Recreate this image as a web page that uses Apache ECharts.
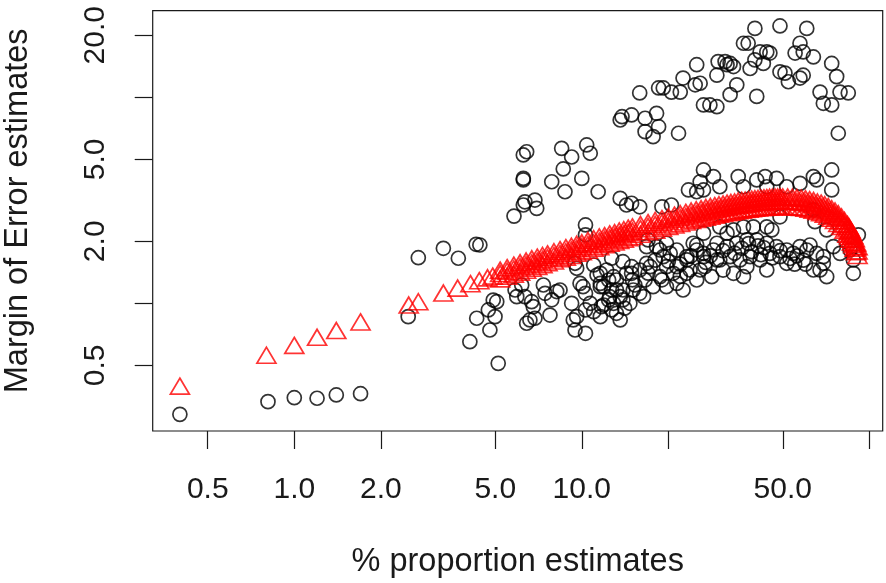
<!DOCTYPE html>
<html>
<head>
<meta charset="utf-8">
<script src="https://cdn.jsdelivr.net/npm/echarts@6/dist/echarts.min.js"></script>
<style>
  html, body { margin: 0; padding: 0; background: #fff; }
  #chart { width: 886px; height: 583px; }
</style>
</head>
<body>
<div id="chart"></div>
<script>
// observed estimates (black circles): % proportion / margin of error
var circP = [
  0.40, 0.81, 1.0, 1.2, 1.4, 1.7,
  2.49, 2.70, 3.30, 3.72, 4.29, 4.31, 4.73, 5.06, 4.99, 4.79, 4.08, 5.12, 4.42, 4.92,
  6.43, 6.26, 6.26, 6.26, 6.34, 6.26, 6.87, 6.97, 5.81, 8.51, 9.22, 8.62, 7.86, 8.74,
  10.4, 10.7, 10.0, 11.4, 13.6, 14.3, 10.3, 10.3, 14.9, 15.9, 19.0, 20.5, 23.5, 25.1,
  25.8, 26.5, 17.0, 16.8,
  5.86, 6.18, 6.34, 7.35, 7.45, 7.86, 8.18, 6.69, 6.60, 6.43, 7.75, 9.22, 9.60, 9.47,
  9.60, 5.94, 6.78, 6.87, 9.86, 10.3, 10.7, 11.6, 11.9, 12.4, 12.7, 13.2, 13.6, 13.9,
  9.34, 10.3, 11.0, 11.7, 14.1, 12.7, 13.9, 9.47, 11.0, 11.3, 12.2, 12.9, 14.3, 14.9,
  15.9, 16.8, 18.7, 19.7, 20.3, 21.4, 23.2, 24.4, 25.1, 26.5, 28.7, 29.5, 19.7, 21.4,
  23.2, 25.8, 28.3, 10.1, 11.6, 12.5, 13.2, 13.9, 15.1, 16.4, 11.9, 14.7, 8.40, 10.3,
  11.6, 12.9, 13.2, 13.6, 11.6, 12.4, 12.7, 14.9, 15.3, 15.9, 16.6, 17.3, 17.7, 18.7,
  19.7, 20.8, 21.4, 22.5, 23.2, 23.8, 25.1, 26.5, 25.1, 19.2, 18.2,
  17.0, 18.0, 20.0, 22.0, 24.0, 15.0, 27.0, 19.0, 22.0,
  13.8, 13.6, 14.9, 15.9, 16.6, 16.6, 17.7, 18.2, 18.5, 21.7, 18.5, 19.2, 20.5, 22.0,
  22.5, 25.1, 24.8, 29.8, 29.5, 26.5, 27.9, 29.5, 40.0, 48.9, 60.6, 36.5, 37.9, 41.7,
  44.0, 45.1, 40.0, 42.8, 31.5, 32.8, 33.7, 32.0, 25.8, 34.6, 32.8, 40.6, 38.5, 48.9,
  50.9, 52.3, 57.4, 58.9, 55.2, 57.4, 58.9, 63.9, 74.0, 77.0, 67.4, 69.2, 74.0, 79.1,
  84.5, 78.0,
  28.7, 26.5, 30.2, 35.0, 36.5, 40.6, 43.4, 44.0, 47.6, 51.6, 57.4, 63.9, 65.6, 74.0,
  74.0, 48.9, 64.7, 71.1, 63.9, 91.6, 85.7, 88.0, 88.0, 75.0,
  30.2, 32.0, 33.7, 36.5, 39.5, 44.0, 45.8, 29.5, 32.0, 34.6, 37.5, 40.6, 44.0, 47.6,
  51.6, 54.4, 57.4, 60.6, 62.2, 65.6, 69.2, 30.2, 32.8, 35.5, 38.5, 41.7, 45.1, 48.9,
  33.7, 37.5, 44.0, 51.6, 63.9, 71.1, 69.2, 79.1, 26.5, 26.8, 67.4, 36.5,
  31.0, 34.0, 36.0, 39.0, 42.0, 43.0, 46.0, 49.0, 53.0, 56.0, 59.0, 38.0, 41.0, 28.0,
  31.0, 55.0, 60.0
];
var circMoE = [
  0.289, 0.333, 0.348, 0.346, 0.359, 0.364,
  0.861, 1.665, 1.849, 1.654, 1.934, 0.846, 0.928, 1.018, 0.861, 0.742, 0.651, 0.511, 1.919, 1.037,
  5.44, 5.25, 4.04, 3.97, 3.11, 3.00, 3.17, 2.89, 2.65, 5.65, 5.13, 4.49, 3.89, 3.48,
  5.87, 5.35, 4.04, 3.48, 3.23, 3.00, 2.40, 2.15, 3.06, 2.94, 2.94, 3.00, 3.55, 3.48,
  3.89, 4.44, 2.03, 1.883,
  1.16, 1.227, 1.077, 1.227, 1.118, 1.04, 1.14, 1.018, 0.83, 0.80, 0.877, 1.0, 0.861, 0.742,
  1.479, 1.077, 0.963, 0.846, 1.25, 1.118, 1.0, 1.398, 1.204, 1.038, 0.928, 1.297, 1.077, 1.16,
  0.83, 0.715, 0.91, 0.963, 0.946, 1.654, 1.592, 1.564, 1.534, 1.372, 1.451, 1.346, 1.398, 1.505,
  1.451, 1.564, 1.814, 1.956, 1.748, 1.814, 1.684, 1.956, 1.814, 1.684, 1.814, 1.623, 1.505, 1.505,
  1.398, 1.451, 1.346, 1.204, 1.204, 1.077, 1.16, 1.038, 1.16, 1.077, 0.981, 1.0, 1.16, 0.928,
  0.861, 1.0, 0.894, 0.83, 1.25, 1.297, 1.16, 1.398, 1.227, 1.118, 1.297, 1.505, 1.204, 1.346,
  1.204, 1.398, 1.25, 1.16, 1.623, 1.451, 1.297, 1.748, 1.919, 1.684, 1.883,
  1.40, 1.62, 1.60, 1.55, 1.70, 1.30, 1.58, 1.30, 1.35,
  8.05, 7.76, 8.21, 10.5, 7.91, 6.81, 6.44, 8.36, 7.20, 6.69, 11.1, 11.1, 10.6, 10.6,
  12.4, 14.4, 11.5, 14.9, 12.8, 9.18, 9.18, 9.00, 21.6, 22.2, 21.6, 18.3, 18.3, 16.6,
  16.6, 16.4, 15.2, 14.6, 14.9, 14.6, 14.1, 14.4, 11.7, 11.5, 10.3, 10.1, 13.8, 13.3,
  13.1, 11.9, 12.4, 12.8, 16.4, 18.3, 16.6, 15.7, 14.6, 12.6, 10.6, 9.35, 9.18, 10.6,
  10.5, 6.69,
  4.12, 3.55, 3.68, 4.12, 3.68, 3.97, 4.12, 3.68, 4.04, 3.68, 3.82, 4.12, 3.97, 4.44,
  3.55, 2.63, 2.49, 2.27, 2.84, 2.15, 1.814, 1.623, 1.398, 1.883,
  2.35, 2.19, 2.27, 2.35, 2.35, 2.35, 2.27, 1.956, 1.883, 1.956, 2.03, 2.03, 1.956, 1.883,
  1.814, 1.748, 1.883, 1.814, 1.919, 1.748, 1.684, 1.623, 1.684, 1.623, 1.684, 1.623, 1.748, 1.684,
  1.398, 1.505, 1.451, 1.564, 1.451, 1.346, 1.564, 1.748, 2.19, 1.505, 1.451, 1.346,
  1.80, 1.75, 1.85, 1.78, 1.72, 1.86, 1.66, 1.80, 1.65, 1.70, 1.62, 1.95, 1.90, 1.70,
  1.45, 1.55, 1.55
];

// red triangles: sparse low proportions
var lowP = [0.4, 0.8, 1.0, 1.2, 1.4, 1.7, 2.5, 2.7, 3.3, 3.7, 4.1, 4.4, 4.7, 4.9];
var lowMoE = [0.383, 0.541, 0.604, 0.661, 0.713, 0.785, 0.948, 0.984, 1.084, 1.146, 1.204, 1.245, 1.285, 1.31];

// red triangles: dense band (upper edge, middle, lower edge)
var bandP = [5.2, 5.5, 5.8, 6.1, 6.4, 6.7, 7.0, 7.3, 7.6, 8.0, 8.4, 8.8, 9.2, 9.6, 10, 10.5, 11, 11.5,
  12, 12.5, 13, 13.5, 14, 14.5, 15, 16, 17, 18, 19, 20, 21, 22, 23, 24, 25, 26, 27, 28, 29, 30,
  31, 32, 33, 34, 35, 36, 37, 38, 39, 40, 41, 42, 43, 44, 45, 46, 47, 48, 49, 50, 52, 54, 56, 58,
  60, 62, 64, 66, 68, 70, 72, 74, 76, 78, 80, 82, 84, 85, 86, 87, 88, 89, 90, 91];
var bandUpper = [1.40, 1.44, 1.48, 1.52, 1.55, 1.59, 1.62, 1.65, 1.68, 1.72, 1.76, 1.80, 1.83, 1.87,
  1.90, 1.95, 1.99, 2.03, 2.06, 2.10, 2.13, 2.17, 2.20, 2.24, 2.27, 2.33, 2.38, 2.44, 2.49, 2.54,
  2.59, 2.63, 2.67, 2.71, 2.75, 2.78, 2.82, 2.85, 2.88, 2.91, 2.93, 2.96, 2.98, 3.00, 3.03, 3.05,
  3.06, 3.08, 3.09, 3.11, 3.12, 3.13, 3.14, 3.15, 3.16, 3.16, 3.17, 3.17, 3.17, 3.17, 3.17, 3.16,
  3.15, 3.13, 3.11, 3.08, 3.05, 3.00, 2.96, 2.91, 2.85, 2.78, 2.71, 2.63, 2.54, 2.44, 2.33, 2.27,
  2.20, 2.13, 2.06, 1.99, 1.90, 1.82];
var bandMid = [1.348, 1.384, 1.419, 1.453, 1.486, 1.518, 1.549, 1.579, 1.609, 1.647, 1.684, 1.720,
  1.754, 1.788, 1.821, 1.861, 1.899, 1.937, 1.973, 2.008, 2.041, 2.074, 2.106, 2.137, 2.167, 2.225,
  2.280, 2.332, 2.381, 2.428, 2.472, 2.514, 2.554, 2.592, 2.628, 2.662, 2.695, 2.725, 2.754, 2.782,
  2.807, 2.831, 2.854, 2.875, 2.895, 2.914, 2.931, 2.946, 2.961, 2.974, 2.985, 2.996, 3.005, 3.013,
  3.020, 3.025, 3.030, 3.033, 3.034, 3.035, 3.033, 3.025, 3.013, 2.996, 2.974, 2.946, 2.914, 2.875,
  2.831, 2.782, 2.725, 2.662, 2.592, 2.514, 2.428, 2.332, 2.225, 2.167, 2.106, 2.041, 1.973, 1.899,
  1.821, 1.737];
var bandLower = [1.27, 1.31, 1.34, 1.37, 1.40, 1.43, 1.46, 1.49, 1.52, 1.55, 1.59, 1.62, 1.65, 1.69,
  1.72, 1.75, 1.79, 1.82, 1.86, 1.89, 1.92, 1.95, 1.98, 2.01, 2.04, 2.09, 2.15, 2.19, 2.24, 2.28,
  2.32, 2.36, 2.40, 2.44, 2.47, 2.50, 2.53, 2.56, 2.59, 2.62, 2.64, 2.66, 2.68, 2.70, 2.72, 2.74,
  2.76, 2.77, 2.78, 2.80, 2.81, 2.82, 2.82, 2.83, 2.84, 2.84, 2.85, 2.85, 2.85, 2.85, 2.85, 2.84,
  2.83, 2.82, 2.80, 2.77, 2.74, 2.70, 2.66, 2.62, 2.56, 2.50, 2.44, 2.36, 2.28, 2.19, 2.09, 2.04,
  1.98, 1.92, 1.86, 1.79, 1.72, 1.65];

var xTicks = [0.5, 1, 2, 5, 10, 20, 50, 100];
var xLabels = [0.5, 1, 2, 5, 10, 50];
var yTicks = [0.5, 1, 2, 5, 10, 20];
var yLabels = [0.5, 2, 5, 20];

var lg = Math.log10;
var circles = circP.map(function (p, i) { return [lg(p), lg(circMoE[i])]; });
var triangles = lowP.map(function (p, i) { return [lg(p), lg(lowMoE[i])]; });
bandP.forEach(function (p, i) {
  triangles.push([lg(p), lg(bandUpper[i])]);
  triangles.push([lg(p), lg(bandMid[i])]);
  triangles.push([lg(p), lg(bandLower[i])]);
});

var fmt = function (v) { return Math.pow(10, v).toFixed(1); };
var font = 'Liberation Sans';
var ink = '#1a1a1a';

var myChart = echarts.init(document.getElementById('chart'));
myChart.setOption({
  animation: false,
  backgroundColor: '#fff',
  grid: {
    left: 152.7, right: 3.3, top: 10.7, bottom: 152,
    outerBoundsMode: 'none',
    containLabel: false,
    show: true, borderColor: ink, borderWidth: 1.2, backgroundColor: 'transparent'
  },
  xAxis: {
    type: 'value',
    min: -0.4925, max: 2.0466,
    name: '% proportion estimates',
    nameLocation: 'middle',
    nameGap: 115,
    nameTextStyle: { fontFamily: font, fontSize: 32.5, color: ink },
    axisLine: { show: false, onZero: false },
    axisTick: { show: true, length: 18, customValues: xTicks.map(lg), lineStyle: { color: ink, width: 1.2 } },
    axisLabel: { customValues: xLabels.map(lg), formatter: fmt, margin: 44, fontFamily: font, fontSize: 30, color: ink },
    splitLine: { show: false }
  },
  yAxis: {
    type: 'value',
    min: -0.620, max: 1.4204,
    name: 'Margin of Error estimates',
    nameLocation: 'middle',
    nameRotate: 90,
    nameGap: 118,
    nameTextStyle: { fontFamily: font, fontSize: 32.5, color: ink, padding: [0, 0, 0, 20] },
    axisLine: { show: false, onZero: false },
    axisTick: { show: true, length: 18, customValues: yTicks.map(lg), lineStyle: { color: ink, width: 1.2 } },
    axisLabel: { customValues: yLabels.map(lg), formatter: fmt, rotate: 90, margin: 42, fontFamily: font, fontSize: 30, color: ink },
    splitLine: { show: false }
  },
  series: [
    {
      type: 'scatter',
      data: circles,
      symbol: 'circle',
      symbolSize: 14,
      itemStyle: { color: 'rgba(0,0,0,0)', borderColor: '#000', borderWidth: 1.7 },
      emphasis: { disabled: true },
      silent: true
    },
    {
      type: 'scatter',
      data: triangles,
      symbol: 'triangle',
      symbolSize: [19, 16],
      symbolOffset: [0, -3],
      itemStyle: { color: 'rgba(0,0,0,0)', borderColor: '#ff0000', borderWidth: 1.7 },
      emphasis: { disabled: true },
      silent: true
    }
  ]
});
</script>
</body>
</html>
